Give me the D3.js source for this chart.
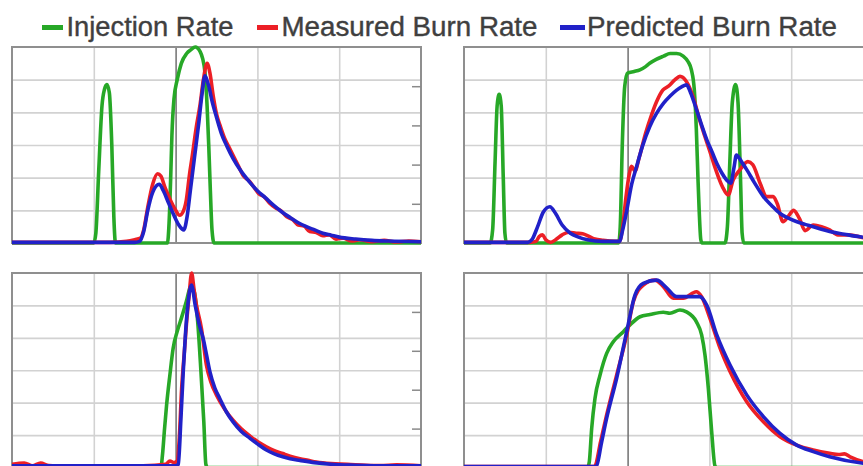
<!DOCTYPE html>
<html>
<head>
<meta charset="utf-8">
<script src="https://cdn.jsdelivr.net/npm/d3@7"></script>
<style>
  html, body { margin: 0; padding: 0; background: #fff; overflow: hidden; }
  svg { display: block; }
</style>
</head>
<body>
<svg id="chart" width="863" height="466"></svg>
<script>
// ---------------- DATA ----------------
// x = crank angle (deg, -20..30; grid every 10), y = rate (0..6 grid units)
const seriesNames = ["Injection Rate", "Measured Burn Rate", "Predicted Burn Rate"];
const xGridTicks = [-10, 0, 10, 20];
const yGridTicks = [1, 2, 3, 4, 5];
const rightTicks = [1, 2, 3, 4];

// Panel 1 (top-left)
const p1Injection = [[-20,0],[-10.0,0],[-9.75,0.3],[-9.4,2.2],[-9.0,4.2],[-8.7,4.7],[-8.4,4.85],[-8.1,4.6],[-7.8,3.0],[-7.55,0.8],[-7.35,0],
  [-1.0,0],[-0.8,0.6],[-0.6,2.0],[-0.45,3.3],[-0.2,4.4],[0.2,5.0],[0.7,5.5],[1.35,5.8],[1.9,5.92],[2.4,6.0],[3.0,5.86],[3.3,5.65],[3.6,5.2],[3.85,4.2],[4.05,3.0],[4.25,1.6],[4.45,0.4],[4.7,0],[30,0]];
const p1Measured = [[-20,0.02],[-8,0.02],[-6,0.05],[-5,0.1],[-4.3,0.15],[-3.9,0.4],[-3.4,1.1],[-2.8,1.8],[-2.2,2.12],[-1.8,2.05],[-1.3,1.7],[-0.7,1.35],[-0.1,1.05],[0.5,0.85],[0.9,0.95],[1.3,1.3],[1.7,2.1],[2.0,2.6],[2.5,3.5],[3.0,4.25],[3.4,5.0],[3.85,5.5],[4.2,5.2],[4.6,4.5],[5.0,3.95],[5.5,3.55],[6.0,3.2],[6.5,2.95],[7.1,2.65],[7.7,2.35],[8.3,2.05],[9.0,1.9],[9.6,1.7],[10.2,1.5],[10.8,1.42],[11.5,1.22],[12.2,1.08],[12.9,0.98],[13.6,0.8],[14.3,0.72],[15.0,0.55],[15.7,0.52],[16.4,0.35],[17.2,0.32],[18.0,0.22],[18.8,0.25],[19.6,0.12],[20.5,0.15],[21.5,0.06],[22.5,0.1],[24,0.04],[25.5,0.08],[27,0.03],[28.5,0.06],[30,0.04]];
const p1Predicted = [[-20,0.02],[-5,0.02],[-4.4,0.05],[-3.9,0.35],[-3.4,1.0],[-2.8,1.55],[-2.0,1.8],[-1.5,1.6],[-0.9,1.25],[-0.3,0.9],[0.4,0.55],[1.0,0.4],[1.4,0.8],[1.8,1.6],[2.3,2.6],[2.8,3.6],[3.2,4.5],[3.6,5.12],[4.0,4.85],[4.5,4.3],[5.0,3.85],[5.6,3.35],[6.3,2.95],[7.0,2.6],[8.0,2.2],[9.0,1.88],[10.0,1.6],[11.0,1.38],[12.0,1.15],[13.0,0.95],[14.0,0.78],[15.0,0.62],[16.0,0.5],[17.0,0.4],[18.0,0.3],[19.0,0.24],[20.0,0.18],[22.0,0.12],[24.0,0.08],[26.0,0.06],[30.0,0.04]];

// Panel 2 (top-right)
const p2Injection = [[-20,0],[-16.8,0],[-16.5,0.4],[-16.2,2.5],[-15.95,4.2],[-15.7,4.55],[-15.45,4.2],[-15.2,2.0],[-15.0,0.3],[-14.8,0],
  [-1.1,0],[-0.9,0.5],[-0.65,3.0],[-0.35,4.8],[0.0,5.2],[0.8,5.25],[1.5,5.3],[2.2,5.4],[2.7,5.5],[3.5,5.62],[4.4,5.72],[5.2,5.8],[6.0,5.8],[6.8,5.72],[7.4,5.55],[7.8,5.3],[8.15,4.7],[8.4,3.5],[8.6,2.0],[8.75,1.0],[8.95,0.1],[9.1,0],
  [11.9,0],[12.2,0.5],[12.5,2.5],[12.8,4.3],[13.2,4.85],[13.5,4.3],[13.8,2.0],[14.0,0.3],[14.2,0],[30,0]];
const p2Measured = [[-20,0.02],[-12,0.02],[-11.2,0.05],[-10.8,0.2],[-10.4,0.25],[-10.0,0.1],[-9.4,0.02],[-8.8,0.1],[-8.0,0.25],[-7.2,0.33],[-6.3,0.3],[-5.5,0.28],[-4.7,0.2],[-4.0,0.12],[-3.0,0.08],[-1.5,0.05],
  [-1.0,0.05],[-0.6,0.5],[-0.2,1.4],[0.2,2.1],[0.5,2.35],[0.9,2.2],[1.4,2.6],[2.2,3.36],[2.9,3.9],[3.5,4.3],[4.3,4.68],[5.0,4.8],[5.8,5.0],[6.4,5.1],[7.2,4.94],[8.0,4.48],[8.8,3.77],[9.4,3.3],[10.0,2.85],[10.8,2.23],[11.6,1.72],[12.3,1.47],[12.9,1.93],[13.7,2.23],[14.7,2.49],[15.3,2.4],[16.2,1.83],[17.0,1.42],[17.8,1.42],[18.3,1.2],[19.0,0.65],[19.6,0.8],[20.3,1.0],[21.0,0.75],[21.7,0.38],[22.7,0.55],[23.7,0.5],[24.7,0.4],[25.7,0.25],[27.0,0.25],[29.0,0.15],[30,0.12]];
const p2Predicted = [[-20,0.02],[-12.2,0.02],[-11.7,0.1],[-11.0,0.5],[-10.3,0.95],[-9.5,1.11],[-8.8,0.9],[-8.0,0.55],[-7.0,0.3],[-6.0,0.18],[-4.9,0.1],[-3.0,0.05],
  [-1.0,0.05],[-0.6,0.4],[-0.1,1.0],[0.5,1.8],[1.1,2.34],[1.8,2.95],[2.7,3.56],[3.5,3.95],[4.4,4.28],[5.2,4.5],[6.0,4.68],[6.6,4.78],[7.2,4.84],[7.7,4.6],[8.4,4.1],[9.0,3.65],[9.7,3.15],[10.3,2.8],[10.9,2.44],[11.5,2.15],[12.1,1.93],[12.6,1.83],[13.0,2.3],[13.3,2.69],[13.9,2.5],[14.6,2.23],[15.5,1.85],[16.6,1.42],[17.6,1.15],[18.6,0.91],[19.6,0.77],[20.7,0.65],[21.7,0.57],[22.7,0.5],[23.7,0.42],[24.7,0.35],[26.5,0.27],[28.4,0.19],[30,0.14]];

// Panel 3 (bottom-left)
const p3Injection = [[-20,0],[-1.8,0],[-1.6,0.4],[-1.35,1.2],[-1.1,1.93],[-0.7,2.85],[-0.3,3.68],[0.2,4.2],[0.7,4.6],[1.3,5.11],[1.9,5.6],[2.3,5.4],[2.7,4.5],[3.1,2.95],[3.45,1.41],[3.7,0.1],[3.9,0],[30,0]];
const p3Measured = [[-20,0.1],[-18.5,0.14],[-17.5,0.05],[-16.5,0.14],[-15.5,0.06],[-14,0.05],[-10,0.04],[-4,0.05],[-1.2,0.1],[-0.7,0.2],[-0.2,0.15],[0.2,0.2],[0.45,0.9],[0.74,2.44],[1.05,3.5],[1.35,4.5],[1.65,5.3],[1.96,6.0],[2.25,5.5],[2.55,5.01],[3.16,4.29],[3.77,3.16],[4.3,2.65],[4.99,2.24],[6.0,1.8],[7.05,1.45],[8.0,1.2],[9.1,0.97],[10.0,0.8],[11.1,0.64],[12.0,0.53],[13.1,0.43],[14.0,0.35],[15.2,0.27],[16.2,0.22],[17.2,0.17],[19,0.12],[21,0.1],[23.3,0.07],[25,0.06],[27,0.08],[30,0.05]];
const p3Predicted = [[-20,0.05],[-1,0.05],[0.0,0.05],[0.33,0.1],[0.65,1.5],[0.94,2.98],[1.2,4.1],[1.5,5.02],[1.94,5.63],[2.4,5.0],[2.9,4.4],[3.37,3.98],[3.8,3.45],[4.2,2.95],[4.8,2.45],[5.4,2.13],[6.2,1.72],[7.05,1.4],[8.0,1.12],[9.1,0.9],[10.0,0.73],[11.1,0.54],[12.0,0.43],[13.1,0.33],[14.0,0.27],[15.2,0.22],[17,0.15],[19,0.1],[22,0.07],[26,0.05],[30,0.05]];

// Panel 4 (bottom-right)
const p4Injection = [[-20,0],[-4.9,0],[-4.68,0.18],[-4.39,1.21],[-3.99,2.13],[-3.37,2.85],[-2.56,3.52],[-1.75,3.88],[-0.52,4.19],[0.29,4.4],[1.52,4.65],[2.74,4.72],[4.37,4.79],[5.18,4.76],[6.4,4.86],[7.2,4.8],[8.4,4.5],[9.05,4.09],[9.46,3.47],[9.87,2.44],[10.28,1.1],[10.68,0.05],[10.9,0],[30,0]];
const p4Measured = [[-20,0.03],[-4.2,0.03],[-3.99,0.05],[-3.3,0.8],[-2.56,1.62],[-1.34,2.85],[-0.11,4.09],[0.7,5.11],[1.92,5.63],[3.35,5.78],[4.37,5.58],[5.59,5.22],[6.8,5.22],[8.4,5.42],[9.05,5.27],[10.07,4.6],[11.3,3.68],[12.52,2.96],[14.56,2.03],[16.6,1.41],[18.63,0.95],[20.67,0.69],[22.7,0.54],[24.7,0.44],[25.8,0.4],[26.5,0.42],[27.2,0.33],[28.8,0.18],[30,0.12]];
const p4Predicted = [[-20,0.03],[-4.0,0.03],[-3.8,0.05],[-3.2,0.75],[-2.56,1.52],[-1.34,2.75],[-0.11,4.19],[0.9,5.32],[1.92,5.68],[3.55,5.78],[4.8,5.53],[6.0,5.27],[7.2,5.27],[8.8,5.27],[9.67,5.01],[10.9,4.09],[12.52,3.16],[14.56,2.24],[16.6,1.57],[18.63,1.05],[20.67,0.69],[22.7,0.49],[24.7,0.33],[28.8,0.13],[30,0.1]];

// ---------------- LAYOUT / STYLE ----------------
const colors = ["#27a827", "#ec1f26", "#2121c8"];
const panels = [
  { x0: 12,  y0: 47,  x1: 421, y1: 243,   series: [p1Injection, p1Measured, p1Predicted] },
  { x0: 464, y0: 47,  x1: 873, y1: 243,   series: [p2Injection, p2Measured, p2Predicted] },
  { x0: 12,  y0: 273, x1: 421, y1: 467.5, series: [p3Injection, p3Measured, p3Predicted] },
  { x0: 464, y0: 273, x1: 873, y1: 467.5, series: [p4Injection, p4Measured, p4Predicted] }
];

const svg = d3.select("#chart");

// ---------------- LEGEND ----------------
const legendItems = [
  { dash: [42, 63],   textX: 66.5, textW: 167 },
  { dash: [257, 278], textX: 281.5, textW: 256 },
  { dash: [560, 585], textX: 587, textW: 250 }
];
const legend = svg.append("g");
legendItems.forEach((it, i) => {
  legend.append("line")
    .attr("x1", it.dash[0]).attr("x2", it.dash[1])
    .attr("y1", 27.5).attr("y2", 27.5)
    .attr("stroke", colors[i]).attr("stroke-width", 5);
  legend.append("text")
    .attr("x", it.textX).attr("y", 36)
    .attr("font-family", "Liberation Sans, Arial, sans-serif")
    .attr("font-size", 27)
    .attr("fill", "#3f3f3f")
    .attr("stroke", "#3f3f3f")
    .attr("stroke-width", 0.4)
    .attr("textLength", it.textW)
    .attr("lengthAdjust", "spacingAndGlyphs")
    .text(seriesNames[i]);
});

// ---------------- PANELS ----------------
panels.forEach((p, pi) => {
  const x = d3.scaleLinear().domain([-20, 30]).range([p.x0, p.x1]);
  const y = d3.scaleLinear().domain([0, 6]).range([p.y1, p.y0]);
  const yR = d3.scaleLinear().domain([0, 5]).range([p.y1, p.y0]);
  const g = svg.append("g");

  const clipId = "clip" + pi;
  svg.append("clipPath").attr("id", clipId)
    .append("rect").attr("x", p.x0).attr("y", p.y0 - 3)
    .attr("width", p.x1 - p.x0).attr("height", p.y1 - p.y0 + 6);

  // horizontal grid
  const gy = g.append("g").attr("transform", `translate(${p.x0},0)`)
    .call(d3.axisLeft(y).tickValues(yGridTicks).tickSize(-(p.x1 - p.x0)).tickFormat(""));
  gy.select(".domain").remove();
  gy.selectAll(".tick line").attr("stroke", "#d2d2d2").attr("stroke-width", 1.6);

  // vertical grid
  const gx = g.append("g").attr("transform", `translate(0,${p.y1})`)
    .call(d3.axisBottom(x).tickValues(xGridTicks).tickSize(-(p.y1 - p.y0)).tickFormat(""));
  gx.select(".domain").remove();
  gx.selectAll(".tick line")
    .attr("stroke", d => d === 0 ? "#707070" : "#d2d2d2")
    .attr("stroke-width", d => d === 0 ? 1.5 : 1.6);

  // frame
  g.append("rect").attr("x", p.x0).attr("y", p.y0)
    .attr("width", p.x1 - p.x0).attr("height", p.y1 - p.y0)
    .attr("fill", "none").attr("stroke", "#8f8f8f").attr("stroke-width", 2);

  // right-side inward ticks
  const gr = g.append("g").attr("transform", `translate(${p.x1},0)`)
    .call(d3.axisLeft(yR).tickValues(rightTicks).tickSize(9).tickFormat(""));
  gr.select(".domain").remove();
  gr.selectAll(".tick line").attr("stroke", "#8a8a8a").attr("stroke-width", 1.5);

  // series lines
  const line = d3.line().x(d => x(d[0])).y(d => y(d[1])).curve(d3.curveMonotoneX);
  const lg = g.append("g").attr("clip-path", `url(#${clipId})`);
  p.series.forEach((s, si) => {
    lg.append("path").datum(s)
      .attr("d", line)
      .attr("fill", "none")
      .attr("stroke", colors[si])
      .attr("stroke-width", 3.6)
      .attr("stroke-linejoin", "round")
      .attr("stroke-linecap", "round");
  });
});
</script>
</body>
</html>
